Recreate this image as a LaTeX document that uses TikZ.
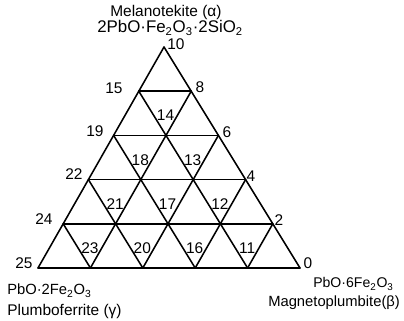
\documentclass[tikz,border=0pt]{standalone}
\usepackage{fontspec}
\setmainfont{Liberation Sans}
\usetikzlibrary{calc}
\begin{document}
\begin{tikzpicture}[
    x=0.025cm, y=-0.025cm,
    grid/.style={line width=1.1pt, line join=round, line cap=round},
    num/.style={font=\fontsize{11}{13}\selectfont, inner sep=0pt},
    phase/.style={font=\fontsize{#1}{14}\selectfont, inner sep=0pt, anchor=base west}
]
    \useasboundingbox (0,0) rectangle (404,321);

    % Points de la grille (ligne r, position k)
    \foreach \r in {0,...,5} {
        \foreach \k in {0,...,\r} {
            \coordinate (p\r\k) at ({164-25.2*\r+52.4*\k}, {47+44.2*\r});
        }
    }

    % Lignes horizontales
    \foreach \r in {1,...,5}
        \draw[grid] (p\r0) -- (p\r\r);
    % Paralleles au cote gauche
    \foreach \k in {0,...,4}
        \draw[grid] (p\k\k) -- (p5\k);
    % Paralleles au cote droit
    \foreach \r in {0,...,4} {
        \pgfmathtruncatemacro{\e}{5-\r}
        \draw[grid] (p\r0) -- (p5\e);
    }

    % Numeros des sommets
    \foreach \t/\x/\y in {10/176/44, 8/200/87, 6/227/132, 4/251/176, 2/279/220, 0/308/263,
                          15/114/88, 19/95/131, 22/74/174, 24/44/219, 25/24/263}
        \node[num] (v\t) at (\x,\y) {\t};

    % Numeros des triangles
    \foreach \t/\r/\k in {14/1/0, 18/2/0, 13/2/1, 21/3/0, 17/3/1, 12/3/2,
                          23/4/0, 20/4/1, 16/4/2, 11/4/3} {
        \pgfmathtruncatemacro{\rr}{\r+1}
        \pgfmathtruncatemacro{\kk}{\k+1}
        \node[num] (t\t) at ($($(p\r\k)!0.5!(p\r\kk)$)!0.55!(p\rr\kk)$) {\t};
    }

    % Phases
    \node[phase=11] (alpha) at (110,17) {Melanotekite (α)};
    \node[phase=12] (alphaf) at (97,33) {2PbO·Fe\textsubscript{2}O\textsubscript{3}·2SiO\textsubscript{2}};
    \node[phase=10.5] (gammaf) at (7,295) {PbO·2Fe\textsubscript{2}O\textsubscript{3}};
    \node[phase=11] (gamma) at (7,316) {Plumboferrite (γ)};
    \node[phase=10] (betaf) at (313,288) {PbO·6Fe\textsubscript{2}O\textsubscript{3}};
    \node[phase=10.5] (beta) at (268,307) {Magnetoplumbite(β)};
\end{tikzpicture}
\end{document}
